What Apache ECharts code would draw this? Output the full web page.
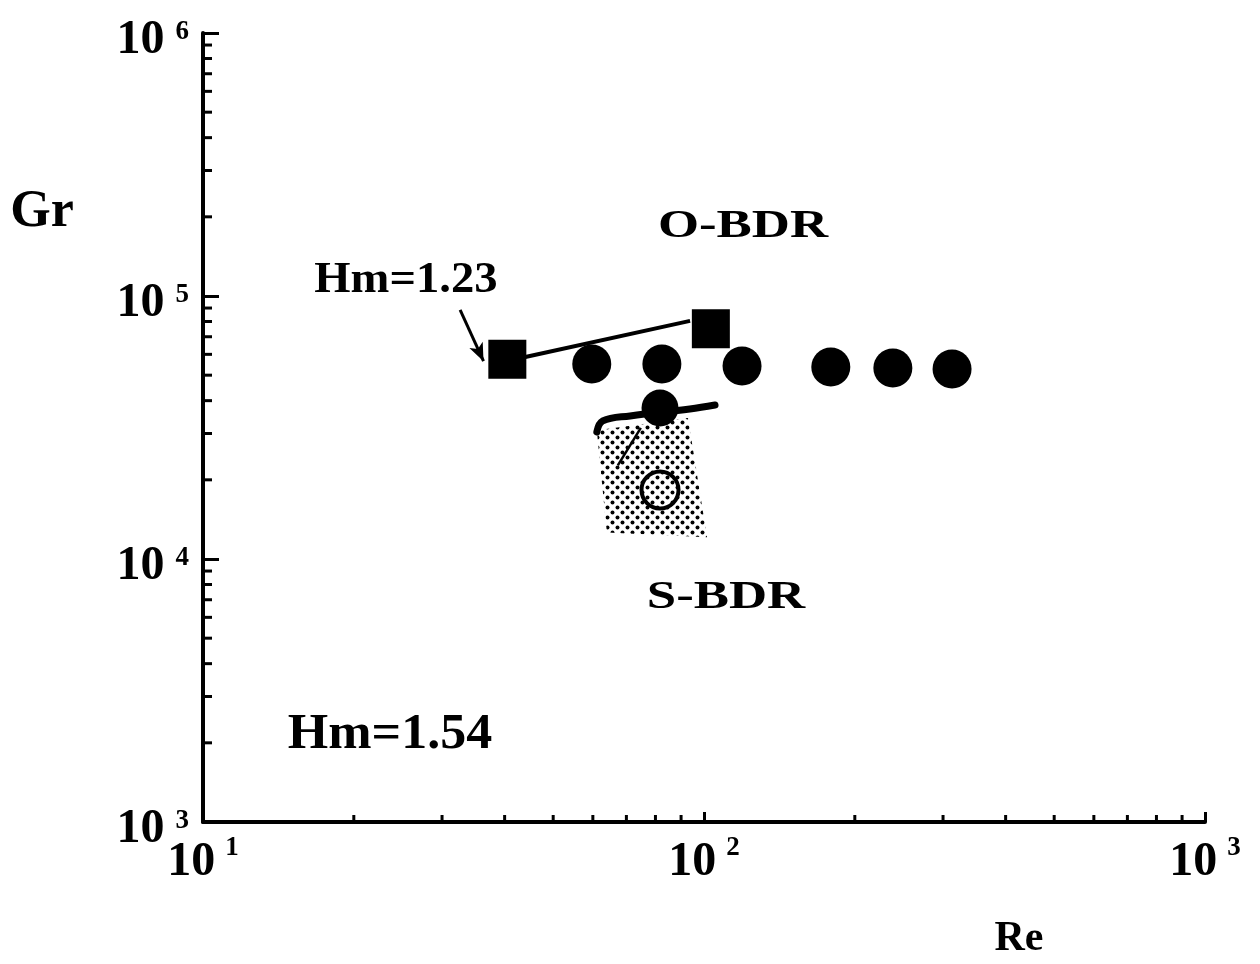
<!DOCTYPE html>
<html><head><meta charset="utf-8">
<script src="https://cdn.jsdelivr.net/npm/echarts@6/dist/echarts.min.js"></script>
<style>html,body{margin:0;padding:0;background:#fff}#c{width:1260px;height:964px}</style>
</head><body><div id="c"></div>
<script>
const FONT = '"Liberation Serif", "Times New Roman", serif';

// O-BDR filled circles (Re, Gr)
const obdrRe = [59.7, 82.4, 119.1, 179.1, 238.2, 312.7];
const obdrGr = [55100, 55100, 54200, 53700, 53200, 52800];
// Hm=1.23 squares
const sqRe = [40.5, 103.2];
const sqGr = [57500, 75000];
// line joining the squares
const sqLineRe = [44.0, 93.8];
const sqLineGr = [58600, 80400];
// boundary filled circle
const bndRe = [81.7];
const bndGr = [37500];
// S-BDR open circle
const sbdrRe = [81.7];
const sbdrGr = [18300];
// boundary curve
const curveRe = [61.1, 62.8, 71.2, 93.7, 105.2];
const curveGr = [30400, 33500, 35000, 37200, 38500];
// shaded S-BDR region
const regionRe = [61.1, 92.9, 101.4, 64.0];
const regionGr = [30900, 34400, 12100, 12600];
// leader line in shaded region
const leaderRe = [67.3, 74.8];
const leaderGr = [22700, 31500];
// arrow from Hm=1.23 label
const arrowRe = [32.6, 36.3];
const arrowGr = [88500, 56500];
// ticks
const xTicks = [10, 100, 1000];
const xTickExp = ['1', '2', '3'];
const yTicks = [1000, 10000, 100000, 1000000];
const yTickExp = ['3', '4', '5', '6'];
const xMinor = [20, 30, 40, 50, 60, 70, 80, 90, 200, 300, 400, 500, 600, 700, 800, 900];
const yMinor = [2000, 3000, 4000, 5000, 6000, 7000, 8000, 9000,
  20000, 30000, 40000, 50000, 60000, 70000, 80000, 90000,
  200000, 300000, 400000, 500000, 600000, 700000, 800000, 900000];

const pat = document.createElement('canvas');
pat.width = 10; pat.height = 10;
const pc = pat.getContext('2d');
pc.fillStyle = '#000';
[[2.5, 2.5], [7.5, 7.5]].forEach(([x, y]) => { pc.beginPath(); pc.arc(x, y, 2.0, 0, Math.PI * 2); pc.fill(); });

function expFor(ticks, exps, v) {
  const i = ticks.findIndex(t => Math.abs(Math.log10(t) - Math.log10(v)) < 1e-6);
  return i >= 0 ? exps[i] : '';
}
const zip = (a, b) => a.map((v, i) => [v, b[i]]);

const chart = echarts.init(document.getElementById('c'), null, { renderer: 'canvas' });
chart.setOption({
  animation: false,
  backgroundColor: '#fff',
  grid: { left: 203, right: 55, top: 33, bottom: 142, containLabel: false },
  xAxis: {
    type: 'log', logBase: 10, min: 10, max: 1000,
    axisLine: { show: true, onZero: false, lineStyle: { color: '#000', width: 4 } },
    axisTick: { show: true, inside: true, length: 10, lineStyle: { color: '#000', width: 3 } },
    splitLine: { show: false },
    axisLabel: {
      margin: 13,
      formatter: v => '{b|10}{s|' + expFor(xTicks, xTickExp, v) + '}',
      rich: {
        b: { fontFamily: FONT, fontWeight: 'bold', fontSize: 48, lineHeight: 56, color: '#000' },
        s: { fontFamily: FONT, fontWeight: 'bold', fontSize: 27, lineHeight: 22, verticalAlign: 'top', padding: [0, 0, 0, 10], color: '#000' }
      }
    }
  },
  yAxis: {
    type: 'log', logBase: 10, min: 1000, max: 1000000,
    axisLine: { show: true, onZero: false, lineStyle: { color: '#000', width: 4 } },
    axisTick: { show: true, inside: true, length: 16, lineStyle: { color: '#000', width: 3 } },
    splitLine: { show: false },
    axisLabel: {
      margin: 14,
      formatter: v => '{b|10}{s|' + expFor(yTicks, yTickExp, v) + '}',
      rich: {
        b: { fontFamily: FONT, fontWeight: 'bold', fontSize: 48, lineHeight: 56, padding: [16, 0, 0, 0], color: '#000' },
        s: { fontFamily: FONT, fontWeight: 'bold', fontSize: 27, lineHeight: 22, verticalAlign: 'top', padding: [14, 0, 0, 11], color: '#000' }
      }
    }
  },
  graphic: [
    { type: 'text', x: 42, y: 213, style: { text: 'Gr', font: 'bold 52px ' + FONT, align: 'center', verticalAlign: 'middle', textAlign: 'center', textVerticalAlign: 'middle', fill: '#000' } },
    { type: 'text', x: 1019, y: 939, style: { text: 'Re', font: 'bold 42px ' + FONT, align: 'center', verticalAlign: 'middle', textAlign: 'center', textVerticalAlign: 'middle', fill: '#000' } },
    { type: 'text', x: 743, y: 227, scaleX: 1.32, style: { text: 'O-BDR', font: 'bold 40px ' + FONT, align: 'center', verticalAlign: 'middle', textAlign: 'center', textVerticalAlign: 'middle', fill: '#000' } },
    { type: 'text', x: 726, y: 598, scaleX: 1.32, style: { text: 'S-BDR', font: 'bold 40px ' + FONT, align: 'center', verticalAlign: 'middle', textAlign: 'center', textVerticalAlign: 'middle', fill: '#000' } },
    { type: 'text', x: 406, y: 281, scaleX: 1.06, style: { text: 'Hm=1.23', font: 'bold 44px ' + FONT, align: 'center', verticalAlign: 'middle', textAlign: 'center', textVerticalAlign: 'middle', fill: '#000' } },
    { type: 'text', x: 390, y: 735, scaleX: 1.04, style: { text: 'Hm=1.54', font: 'bold 50px ' + FONT, align: 'center', verticalAlign: 'middle', textAlign: 'center', textVerticalAlign: 'middle', fill: '#000' } }
  ],
  series: [
    {
      name: 'yMinor', type: 'custom', silent: true, z: 6,
      data: yMinor.map(v => [10, v]),
      renderItem: (p, api) => {
        const c = api.coord([api.value(0), api.value(1)]);
        return { type: 'line', shape: { x1: c[0], y1: c[1], x2: c[0] + 9, y2: c[1] }, style: { stroke: '#000', lineWidth: 3 } };
      }
    },
    {
      name: 'xMinor', type: 'custom', silent: true, z: 6,
      data: xMinor.map(v => [v, 1000]),
      renderItem: (p, api) => {
        const c = api.coord([api.value(0), api.value(1)]);
        return { type: 'line', shape: { x1: c[0], y1: c[1], x2: c[0], y2: c[1] - 7 }, style: { stroke: '#000', lineWidth: 3 } };
      }
    },
    {
      name: 'region', type: 'custom', silent: true, z: 1,
      data: zip(regionRe, regionGr),
      renderItem: (p, api) => {
        if (p.dataIndex !== 0) return null;
        const pts = regionRe.map((r, i) => api.coord([r, regionGr[i]]));
        return { type: 'polygon', shape: { points: pts }, style: { fill: { image: pat, repeat: 'repeat' }, stroke: null } };
      }
    },
    {
      name: 'leader', type: 'line', silent: true, z: 2, showSymbol: false, symbol: 'none',
      data: zip(leaderRe, leaderGr), lineStyle: { color: '#000', width: 2.5 }
    },
    {
      name: 'curve', type: 'line', silent: true, z: 3, showSymbol: false, symbol: 'none', smooth: 0.4,
      data: zip(curveRe, curveGr), lineStyle: { color: '#000', width: 7, cap: 'round' }
    },
    {
      name: 'sqLine', type: 'line', silent: true, z: 3, showSymbol: false, symbol: 'none',
      data: zip(sqLineRe, sqLineGr), lineStyle: { color: '#000', width: 4 }
    },
    {
      name: 'arrow', type: 'line', silent: true, z: 3, data: [],
      markLine: {
        silent: true, symbol: ['none', 'arrow'], symbolSize: [11, 18],
        label: { show: false }, lineStyle: { color: '#000', width: 3, type: 'solid' },
        data: [[{ coord: [arrowRe[0], arrowGr[0]] }, { coord: [arrowRe[1], arrowGr[1]] }]]
      }
    },
    {
      name: 'squares', type: 'scatter', silent: true, z: 4, symbol: 'rect', symbolSize: [38, 39],
      data: zip(sqRe, sqGr), itemStyle: { color: '#000', opacity: 1 }
    },
    {
      name: 'obdr', type: 'scatter', silent: true, z: 4, symbol: 'circle', symbolSize: 39,
      data: zip(obdrRe, obdrGr), itemStyle: { color: '#000', opacity: 1 }
    },
    {
      name: 'boundary', type: 'scatter', silent: true, z: 4, symbol: 'circle', symbolSize: 37,
      data: zip(bndRe, bndGr), itemStyle: { color: '#000', opacity: 1 }
    },
    {
      name: 'sbdr', type: 'scatter', silent: true, z: 5, symbol: 'circle', symbolSize: 37,
      data: zip(sbdrRe, sbdrGr), itemStyle: { color: 'rgba(0,0,0,0)', borderColor: '#000', borderWidth: 4, opacity: 1 }
    }
  ]
});
</script>
</body></html>
